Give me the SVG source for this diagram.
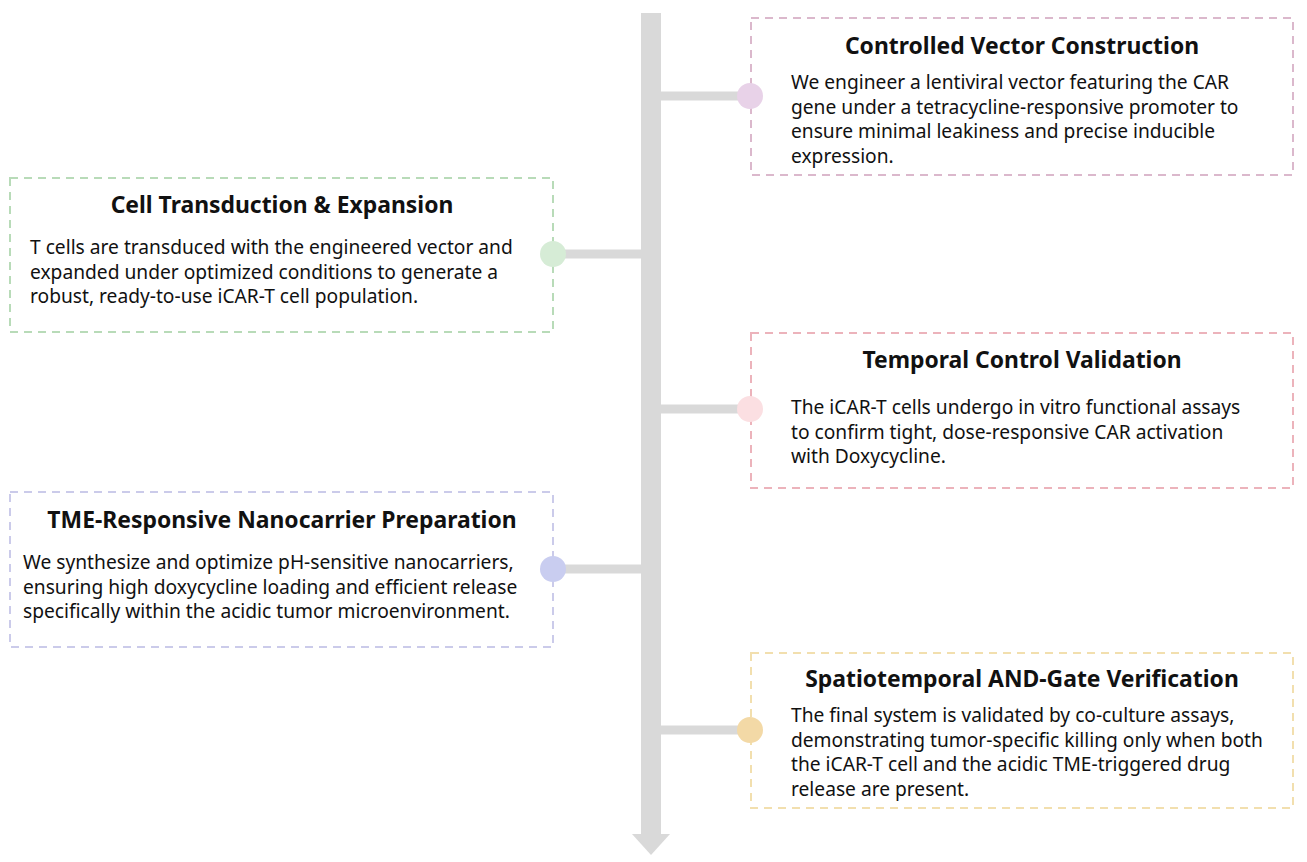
<svg xmlns="http://www.w3.org/2000/svg" width="1307" height="862" viewBox="0 0 1307 862">
<style>
.box{fill:#fff;stroke-width:2;stroke-dasharray:8 6}
.t{font-family:"Noto Sans","Open Sans",sans-serif;font-weight:bold;font-size:22.9px;fill:#111;text-anchor:middle}
.b{font-family:"Noto Sans","Open Sans",sans-serif;font-size:19.2px;fill:#111}
.c{stroke:#d9d9d9;stroke-width:9}
</style>
<rect width="1307" height="862" fill="#fff"/>
<g id="connectors">
<rect x="641" y="13" width="20" height="823" fill="#d9d9d9"/>
<polygon points="632,834 670,834 651,855" fill="#d9d9d9"/>
<line class="c" x1="660" y1="96" x2="750" y2="96"/>
<line class="c" x1="553" y1="254" x2="642" y2="254"/>
<line class="c" x1="660" y1="409" x2="750" y2="409"/>
<line class="c" x1="553" y1="569" x2="642" y2="569"/>
<line class="c" x1="660" y1="730" x2="750" y2="730"/>
</g>
<g id="n1">
<rect class="box" x="751" y="18" width="542" height="157" stroke="#dbb8cc"/>
<circle cx="750" cy="96" r="13" fill="#e8d2e8"/>
<text class="t" x="1022" y="54">Controlled Vector Construction</text>
<text class="b" x="791" y="89">We engineer a lentiviral vector featuring the CAR</text>
<text class="b" x="791" y="113.5">gene under a tetracycline-responsive promoter to</text>
<text class="b" x="791" y="138">ensure minimal leakiness and precise inducible</text>
<text class="b" x="791" y="162.5">expression.</text>
</g>
<g id="n2">
<rect class="box" x="10" y="178" width="543" height="154" stroke="#b8dbb8"/>
<circle cx="553" cy="254" r="13" fill="#d6ecd6"/>
<text class="t" x="282" y="213">Cell Transduction &amp; Expansion</text>
<text class="b" x="30" y="254">T cells are transduced with the engineered vector and</text>
<text class="b" x="30" y="278.5">expanded under optimized conditions to generate a</text>
<text class="b" x="30" y="303">robust, ready-to-use iCAR-T cell population.</text>
</g>
<g id="n3">
<rect class="box" x="751" y="333" width="542" height="155" stroke="#ecb3bb"/>
<circle cx="750" cy="409" r="13" fill="#fbdfe2"/>
<text class="t" x="1022" y="368">Temporal Control Validation</text>
<text class="b" x="791" y="414">The iCAR-T cells undergo in vitro functional assays</text>
<text class="b" x="791" y="438.5">to confirm tight, dose-responsive CAR activation</text>
<text class="b" x="791" y="463">with Doxycycline.</text>
</g>
<g id="n4">
<rect class="box" x="10" y="492" width="543" height="155" stroke="#cbcbea"/>
<circle cx="553" cy="569" r="13" fill="#c9cdf0"/>
<text class="t" x="282" y="528">TME-Responsive Nanocarrier Preparation</text>
<text class="b" x="23" y="569">We synthesize and optimize pH-sensitive nanocarriers,</text>
<text class="b" x="23" y="593.5">ensuring high doxycycline loading and efficient release</text>
<text class="b" x="23" y="618">specifically within the acidic tumor microenvironment.</text>
</g>
<g id="n5">
<rect class="box" x="751" y="653" width="542" height="155" stroke="#f2dfae"/>
<circle cx="750" cy="730" r="13" fill="#f3d9a6"/>
<text class="t" x="1022" y="687">Spatiotemporal AND-Gate Verification</text>
<text class="b" x="791" y="722">The final system is validated by co-culture assays,</text>
<text class="b" x="791" y="746.5">demonstrating tumor-specific killing only when both</text>
<text class="b" x="791" y="771">the iCAR-T cell and the acidic TME-triggered drug</text>
<text class="b" x="791" y="795.5">release are present.</text>
</g>
</svg>
